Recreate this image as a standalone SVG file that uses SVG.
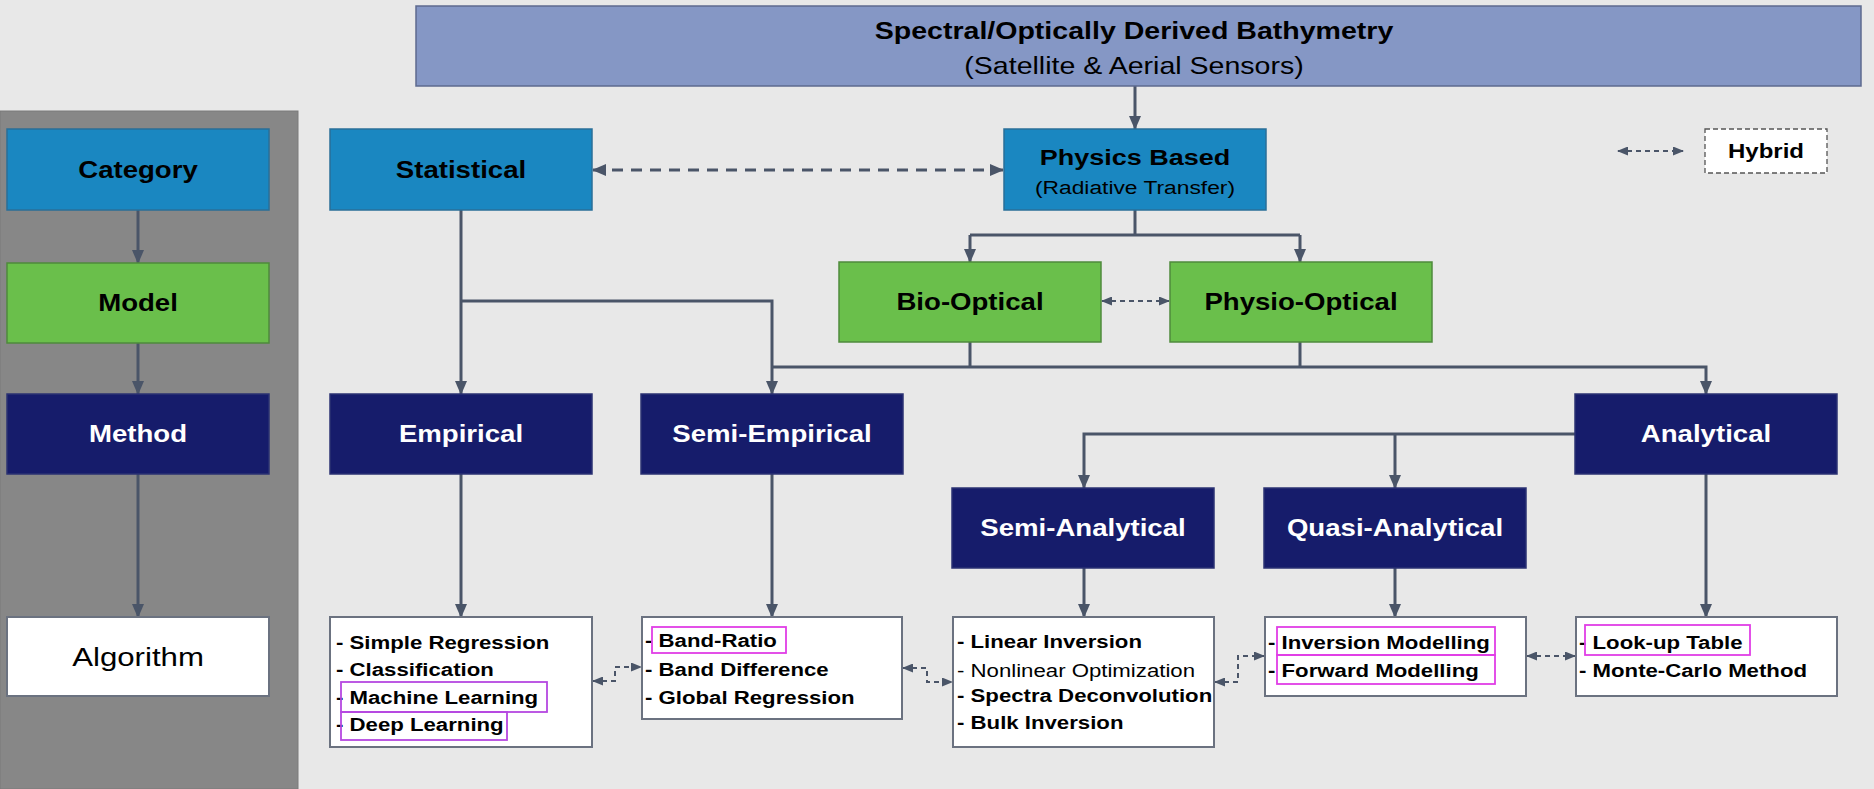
<svg xmlns="http://www.w3.org/2000/svg" width="1874" height="789" viewBox="0 0 1874 789">
<defs>
<marker id="arr" viewBox="0 0 14 12" markerWidth="14" markerHeight="12" refX="13" refY="6" markerUnits="userSpaceOnUse" orient="auto-start-reverse"><path d="M0,0 L14,6 L0,12 z" fill="#4a5568"/></marker>
<marker id="sm" viewBox="0 0 11 9" markerWidth="11" markerHeight="9" refX="10" refY="4.5" markerUnits="userSpaceOnUse" orient="auto-start-reverse"><path d="M0,0 L11,4.5 L0,9 z" fill="#4a5568"/></marker>
<style>
.cat{fill:#1a87c1;stroke:#2a6f98;stroke-width:1.5}
.mod{fill:#6abf4b;stroke:#4f8a3c;stroke-width:1.5}
.met{fill:#161c6b;stroke:#2b3273;stroke-width:1.5}
.alg{fill:#ffffff;stroke:#6b7280;stroke-width:2}
.hl1{fill:none;stroke:#b548e0;stroke-width:1.8}
.hl2{fill:none;stroke:#e03ee6;stroke-width:1.8}
.lab{font-family:"Liberation Sans",Arial,sans-serif;font-weight:bold;font-size:23px;text-anchor:middle;fill:#000}
.labw{font-family:"Liberation Sans",Arial,sans-serif;font-weight:bold;font-size:23px;text-anchor:middle;fill:#fff}
.item{font-family:"Liberation Sans",Arial,sans-serif;font-weight:bold;font-size:18.5px;fill:#000}
.itemn{font-family:"Liberation Sans",Arial,sans-serif;font-weight:normal;font-size:18.5px;fill:#000}
.sol{fill:none;stroke:#4a5568;stroke-width:3}
.dash{fill:none;stroke:#4a5568;stroke-width:3;stroke-dasharray:11 8}
.dot{fill:none;stroke:#4a5568;stroke-width:2;stroke-dasharray:5 4}
</style>
</defs>
<rect x="0" y="0" width="1874" height="789" fill="#e8e8e8"/>
<rect id="legend-panel" x="0" y="111" width="298" height="678" fill="#878787" stroke="#7a7a7a" stroke-width="1"/>

<g id="connectors">
<path class="sol" d="M138,210 V263" marker-end="url(#arr)"/>
<path class="sol" d="M138,343 V394" marker-end="url(#arr)"/>
<path class="sol" d="M138,474 V617" marker-end="url(#arr)"/>
<path class="sol" d="M1135,86 V129" marker-end="url(#arr)"/>
<path class="sol" d="M1135,210 V235"/>
<path class="sol" d="M970,235 H1300"/>
<path class="sol" d="M970,235 V262" marker-end="url(#arr)"/>
<path class="sol" d="M1300,235 V262" marker-end="url(#arr)"/>
<path class="sol" d="M461,210 V394" marker-end="url(#arr)"/>
<path class="sol" d="M461,301 H772 V394" marker-end="url(#arr)"/>
<path class="sol" d="M970,342 V367"/>
<path class="sol" d="M1300,342 V367"/>
<path class="sol" d="M772,367 H1706 V394" marker-end="url(#arr)"/>
<path class="sol" d="M1575,434 H1084 V488" marker-end="url(#arr)"/>
<path class="sol" d="M1395,434 V488" marker-end="url(#arr)"/>
<path class="sol" d="M461,474 V617" marker-end="url(#arr)"/>
<path class="sol" d="M772,474 V617" marker-end="url(#arr)"/>
<path class="sol" d="M1084,568 V617" marker-end="url(#arr)"/>
<path class="sol" d="M1395,568 V617" marker-end="url(#arr)"/>
<path class="sol" d="M1706,474 V617" marker-end="url(#arr)"/>
<path class="dash" d="M593,170 H1003" marker-start="url(#arr)" marker-end="url(#arr)"/>
<path class="dot" d="M1102,301 H1169" marker-start="url(#sm)" marker-end="url(#sm)"/>
<path class="dot" d="M1618,151 H1683" marker-start="url(#sm)" marker-end="url(#sm)"/>
<path class="dot" d="M593,681 H615 V667 H641" marker-start="url(#sm)" marker-end="url(#sm)"/>
<path class="dot" d="M903,668 H927 V682 H952" marker-start="url(#sm)" marker-end="url(#sm)"/>
<path class="dot" d="M1215,682 H1238 V656 H1264" marker-start="url(#sm)" marker-end="url(#sm)"/>
<path class="dot" d="M1527,656 H1575" marker-start="url(#sm)" marker-end="url(#sm)"/>
</g>

<g id="top">
<rect x="416" y="6" width="1445" height="80" fill="#8597c5" stroke="#5d6a8e" stroke-width="1.5"/>
<text class="lab" transform="translate(1134,38.5) scale(1.2,1)" style="font-size:23.8px">Spectral/Optically Derived Bathymetry</text>
<text class="lab" transform="translate(1134,73.5) scale(1.2,1)" style="font-size:23.8px;font-weight:normal">(Satellite &amp; Aerial Sensors)</text>
</g>

<g id="legend-category">
<rect class="cat" x="7" y="129" width="262" height="81"/>
<text class="lab" transform="translate(138,178) scale(1.2,1)">Category</text>
</g>
<g id="legend-model">
<rect class="mod" x="7" y="263" width="262" height="80"/>
<text class="lab" transform="translate(138,311) scale(1.2,1)">Model</text>
</g>
<g id="legend-method">
<rect class="met" x="7" y="394" width="262" height="80"/>
<text class="labw" transform="translate(138,442) scale(1.2,1)">Method</text>
</g>
<g id="legend-algorithm">
<rect class="alg" x="7" y="617" width="262" height="79" stroke="#9a9a9a"/>
<text class="lab" transform="translate(138,665.5) scale(1.2,1)" style="font-weight:normal;font-size:26px">Algorithm</text>
</g>

<g id="statistical">
<rect class="cat" x="330" y="129" width="262" height="81"/>
<text class="lab" transform="translate(461,178) scale(1.2,1)">Statistical</text>
</g>
<g id="physics">
<rect class="cat" x="1004" y="129" width="262" height="81"/>
<text class="lab" transform="translate(1135,165) scale(1.2,1)" style="font-size:22.5px">Physics Based</text>
<text class="lab" transform="translate(1135,194) scale(1.2,1)" style="font-size:19px;font-weight:normal">(Radiative Transfer)</text>
</g>
<g id="hybrid-legend">
<rect x="1705" y="129" width="122" height="44" fill="#ffffff" stroke="#555" stroke-width="1.3" stroke-dasharray="5 3"/>
<text class="lab" transform="translate(1766,158) scale(1.2,1)" style="font-size:20px">Hybrid</text>
</g>

<g id="bio-optical">
<rect class="mod" x="839" y="262" width="262" height="80"/>
<text class="lab" transform="translate(970,310) scale(1.2,1)">Bio-Optical</text>
</g>
<g id="physio-optical">
<rect class="mod" x="1170" y="262" width="262" height="80"/>
<text class="lab" transform="translate(1301,310) scale(1.2,1)">Physio-Optical</text>
</g>

<g id="empirical">
<rect class="met" x="330" y="394" width="262" height="80"/>
<text class="labw" transform="translate(461,442) scale(1.2,1)">Empirical</text>
</g>
<g id="semi-empirical">
<rect class="met" x="641" y="394" width="262" height="80"/>
<text class="labw" transform="translate(772,442) scale(1.2,1)">Semi-Empirical</text>
</g>
<g id="analytical">
<rect class="met" x="1575" y="394" width="262" height="80"/>
<text class="labw" transform="translate(1706,442) scale(1.2,1)">Analytical</text>
</g>
<g id="semi-analytical">
<rect class="met" x="952" y="488" width="262" height="80"/>
<text class="labw" transform="translate(1083,536) scale(1.2,1)">Semi-Analytical</text>
</g>
<g id="quasi-analytical">
<rect class="met" x="1264" y="488" width="262" height="80"/>
<text class="labw" transform="translate(1395,536) scale(1.2,1)">Quasi-Analytical</text>
</g>

<g id="alg-empirical">
<rect class="alg" x="330" y="617" width="262" height="130"/>
<text class="item" transform="translate(336,648.5) scale(1.2,1)">- Simple Regression</text>
<text class="item" transform="translate(336,676) scale(1.2,1)">- Classification</text>
<text class="item" transform="translate(336,703.5) scale(1.2,1)">- Machine Learning</text>
<text class="item" transform="translate(336,731) scale(1.2,1)">- Deep Learning</text>
<rect class="hl1" x="341" y="682" width="206" height="30"/>
<rect class="hl1" x="341" y="712" width="166" height="28"/>
</g>
<g id="alg-semi-empirical">
<rect class="alg" x="642" y="617" width="260" height="102"/>
<text class="item" transform="translate(645,647) scale(1.2,1)">- Band-Ratio</text>
<text class="item" transform="translate(645,676) scale(1.2,1)">- Band Difference</text>
<text class="item" transform="translate(645,704) scale(1.2,1)">- Global Regression</text>
<rect class="hl2" x="652" y="627" width="134" height="26"/>
</g>
<g id="alg-semi-analytical">
<rect class="alg" x="953" y="617" width="261" height="130"/>
<text class="item" transform="translate(957,648) scale(1.2,1)">- Linear Inversion</text>
<text class="itemn" transform="translate(957,677) scale(1.2,1)">- Nonlinear Optimization</text>
<text class="item" transform="translate(957,702) scale(1.2,1)">- Spectra Deconvolution</text>
<text class="item" transform="translate(957,729) scale(1.2,1)">- Bulk Inversion</text>
</g>
<g id="alg-quasi-analytical">
<rect class="alg" x="1265" y="617" width="261" height="79"/>
<text class="item" transform="translate(1268,649) scale(1.2,1)">- Inversion Modelling</text>
<text class="item" transform="translate(1268,677) scale(1.2,1)">- Forward Modelling</text>
<rect class="hl2" x="1277" y="627" width="218" height="28"/>
<rect class="hl2" x="1277" y="655" width="218" height="29"/>
</g>
<g id="alg-analytical">
<rect class="alg" x="1576" y="617" width="261" height="79"/>
<text class="item" transform="translate(1579,649) scale(1.2,1)">- Look-up Table</text>
<text class="item" transform="translate(1579,677) scale(1.2,1)">- Monte-Carlo Method</text>
<rect class="hl2" x="1585" y="625" width="165" height="30"/>
</g>
</svg>
